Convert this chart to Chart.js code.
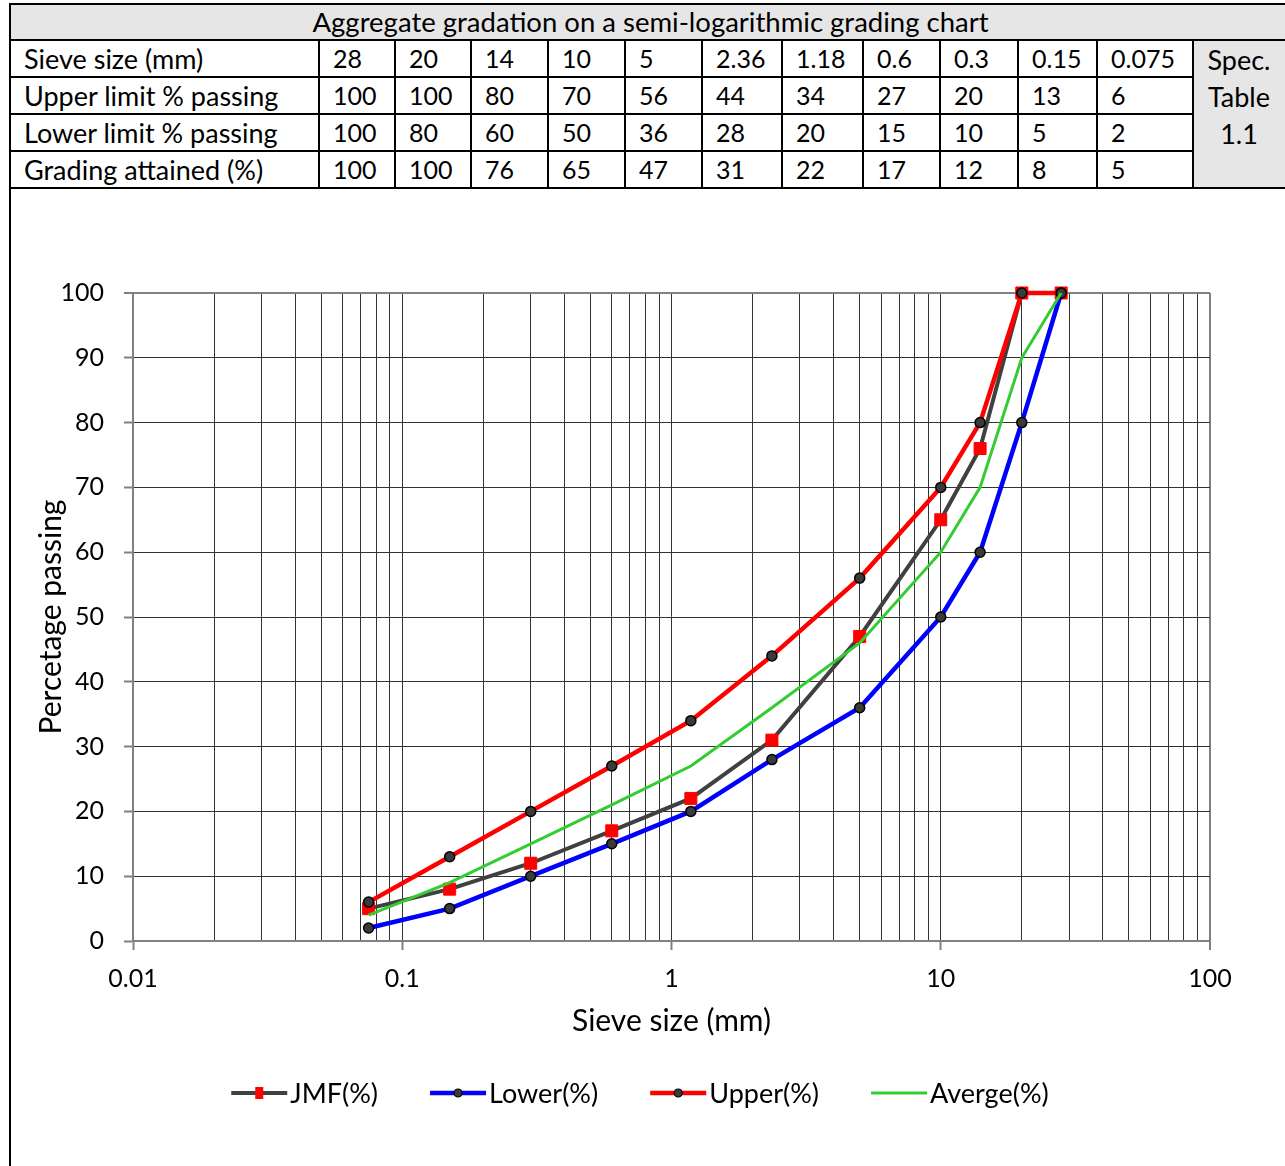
<!DOCTYPE html>
<html>
<head>
<meta charset="utf-8">
<script src="https://cdn.jsdelivr.net/npm/chart.js@4.4.1/dist/chart.umd.min.js"></script>
<style>
  html, body { margin: 0; padding: 0; background: #fff; overflow: hidden; }
  body { width: 1285px; height: 1166px; position: relative; font-family: Lato, sans-serif; color: #000; }
  #grading {
    position: absolute; left: 9px; top: 3px;
    border-collapse: collapse; table-layout: fixed; width: 1281px;
    font-size: 25px;
  }
  #grading td, #grading th {
    border: 2px solid #000; height: 35px; padding: 0 0 0 13px;
    text-align: left; font-weight: normal; white-space: nowrap; line-height: 35px;
  }
  #grading td.name { font-size: 27px; }
  #grading th { background: #e7e6e6; text-align: center; padding: 0; height: 34px; line-height: 34px; font-size: 27.5px; }
  #grading td.spec { background: #e7e6e6; text-align: center; vertical-align: top; padding: 0 6px 0 0; line-height: 37px; font-size: 27px; }
  #frame { position: absolute; left: 9px; top: 188px; width: 1300px; height: 990px; border-left: 2px solid #000; }
  #chart-box { position: absolute; left: 11px; top: 190px; width: 1274px; height: 976px; }
</style>
</head>
<body>
<table id="grading">
  <colgroup>
    <col style="width:309px"><col style="width:76px"><col style="width:76px"><col style="width:77px">
    <col style="width:77px"><col style="width:77px"><col style="width:80px"><col style="width:81px">
    <col style="width:77px"><col style="width:78px"><col style="width:79px"><col style="width:96px">
    <col style="width:98px">
  </colgroup>
  <tbody id="grading-body"></tbody>
</table>
<div id="frame"></div>
<div id="chart-box"><canvas id="gradation-chart"></canvas></div>

<script>
// Sieve openings (mm), coarse to fine, and percent passing at each
const sieveSizes = [28, 20, 14, 10, 5, 2.36, 1.18, 0.6, 0.3, 0.15, 0.075];
const upperLimit = [100, 100, 80, 70, 56, 44, 34, 27, 20, 13, 6];
const lowerLimit = [100, 80, 60, 50, 36, 28, 20, 15, 10, 5, 2];
const gradingAttained = [100, 100, 76, 65, 47, 31, 22, 17, 12, 8, 5];
const averageGrading = [100, 90, 70, 60, 46, 36, 27, 21, 15, 9, 4];

// Log axis decades (labelled) and y ticks
const decadeTicks = [0.01, 0.1, 1, 10, 100];
const yMin = 0, yMax = 100, yStep = 10;

const FONT = 'Lato';

function buildTable() {
    const body = document.getElementById('grading-body');
    const head = document.createElement('tr');
    head.innerHTML = '<th colspan="13">Aggregate gradation on a semi-logarithmic grading chart</th>';
    body.appendChild(head);

    const rows = [
        ['Sieve size (mm)', sieveSizes],
        ['Upper limit % passing', upperLimit],
        ['Lower limit % passing', lowerLimit],
        ['Grading attained (%)', gradingAttained]
    ];
    rows.forEach(([name, values], i) => {
        const tr = document.createElement('tr');
        let html = '<td class="name">' + name + '</td>' + values.map(v => '<td>' + v + '</td>').join('');
        if (i === 0) html += '<td rowspan="4" class="spec">Spec.<br>Table<br>1.1</td>';
        tr.innerHTML = html;
        body.appendChild(tr);
    });
}

function toPoints(values) {
    return sieveSizes.map((s, i) => ({x: s, y: values[i]}));
}

// Legend drawn as short line samples with the series marker in the middle
const lineLegend = {
    id: 'lineLegend',
    afterDraw(chart, args, opts) {
        const ctx = chart.ctx;
        ctx.save();
        ctx.font = opts.fontSize + 'px ' + FONT;
        ctx.textBaseline = 'middle';
        const items = chart.data.datasets.map(ds => ({ds, w: ctx.measureText(ds.label).width}));
        const lineLen = 56, textGap = 3, itemGap = 52;
        const total = items.reduce((s, it) => s + lineLen + textGap + it.w, 0) + itemGap * (items.length - 1);
        let x = opts.centerX - total / 2;
        const y = opts.y;
        items.forEach(({ds, w}) => {
            ctx.strokeStyle = ds.borderColor;
            ctx.lineWidth = ds.borderWidth;
            ctx.beginPath();
            ctx.moveTo(x, y);
            ctx.lineTo(x + lineLen, y);
            ctx.stroke();
            const cx = x + lineLen / 2;
            if (ds.pointStyle === 'rect' && ds.pointRadius > 0) {
                ctx.fillStyle = ds.pointBackgroundColor;
                ctx.fillRect(cx - 4, y - 6, 8, 12);
            } else if (ds.pointRadius > 0) {
                ctx.fillStyle = ds.pointBackgroundColor;
                ctx.strokeStyle = ds.pointBorderColor;
                ctx.lineWidth = 1.2;
                ctx.beginPath();
                ctx.arc(cx, y, 4, 0, Math.PI * 2);
                ctx.fill();
                ctx.stroke();
            }
            ctx.fillStyle = '#000';
            ctx.fillText(ds.label, x + lineLen + textGap, y + 1);
            x += lineLen + textGap + w + itemGap;
        });
        ctx.restore();
    }
};

function createChart() {
    const ctx = document.getElementById('gradation-chart').getContext('2d');
    const marker = {
        pointStyle: 'circle',
        pointRadius: 5,
        pointBackgroundColor: '#3a3a3a',
        pointBorderColor: '#000',
        pointBorderWidth: 1.5
    };

    return new Chart(ctx, {
        type: 'line',
        data: {
            datasets: [
                {
                    label: 'JMF(%)',
                    data: toPoints(gradingAttained),
                    borderColor: '#404040',
                    borderWidth: 4,
                    pointStyle: 'rect',
                    pointRadius: 8.5,
                    pointBackgroundColor: '#ff0000',
                    pointBorderColor: '#ff0000',
                    pointBorderWidth: 1,
                    order: 4
                },
                Object.assign({
                    label: 'Lower(%)',
                    data: toPoints(lowerLimit),
                    borderColor: '#0000ff',
                    borderWidth: 4.5,
                    order: 3
                }, marker),
                Object.assign({
                    label: 'Upper(%)',
                    data: toPoints(upperLimit),
                    borderColor: '#ff0000',
                    borderWidth: 4.5,
                    order: 2
                }, marker),
                {
                    label: 'Averge(%)',
                    data: toPoints(averageGrading),
                    borderColor: '#33cc33',
                    borderWidth: 3,
                    pointRadius: 0,
                    order: 1
                }
            ]
        },
        options: {
            responsive: true,
            maintainAspectRatio: false,
            animation: false,
            events: [],
            datasets: {
                line: { tension: 0, clip: false, fill: false }
            },
            layout: {
                padding: { top: 103, right: 75, left: 0, bottom: 125 }
            },
            plugins: {
                legend: { display: false },
                tooltip: { enabled: false },
                lineLegend: { centerX: 629, y: 903, fontSize: 27 }
            },
            scales: {
                x: {
                    type: 'logarithmic',
                    min: decadeTicks[0],
                    max: decadeTicks[decadeTicks.length - 1],
                    afterBuildTicks: scale => {
                        const ticks = [];
                        decadeTicks.forEach((d, i) => {
                            if (i === decadeTicks.length - 1) {
                                ticks.push({value: d});
                                return;
                            }
                            for (let m = 1; m <= 9; m++) {
                                ticks.push({value: +(d * m).toPrecision(3)});
                            }
                        });
                        scale.ticks = ticks;
                    },
                    afterFit: scale => { scale.height = 100; },
                    grid: {
                        color: c => (c.tick && c.tick.value === 100 ? '#808080' : '#333'),
                        lineWidth: c => (c.tick && c.tick.value === 100 ? 2 : 1),
                        tickColor: c => (c.tick && decadeTicks.includes(c.tick.value) ? '#808080' : 'rgba(0,0,0,0)'),
                        tickLength: 9,
                        tickWidth: 2
                    },
                    border: { display: true, color: '#808080', width: 2 },
                    ticks: {
                        autoSkip: false,
                        maxRotation: 0,
                        padding: 14,
                        color: '#000',
                        font: { family: FONT, size: 25 },
                        callback: value => (decadeTicks.includes(value) ? String(value) : '')
                    },
                    title: {
                        display: true,
                        text: 'Sieve size (mm)',
                        color: '#000',
                        font: { family: FONT, size: 30 },
                        padding: { top: 0, bottom: 2 }
                    }
                },
                y: {
                    min: yMin,
                    max: yMax,
                    afterFit: scale => { scale.width = 122; },
                    grid: {
                        color: c => (c.tick && c.tick.value === 100 ? '#808080' : '#333'),
                        lineWidth: c => (c.tick && c.tick.value === 100 ? 2 : 1),
                        tickColor: '#808080',
                        tickLength: 9,
                        tickWidth: 2
                    },
                    border: { display: true, color: '#808080', width: 2 },
                    ticks: {
                        stepSize: yStep,
                        padding: 20,
                        color: '#000',
                        font: { family: FONT, size: 25 }
                    },
                    title: {
                        display: true,
                        text: 'Percetage passing',
                        color: '#000',
                        font: { family: FONT, size: 30 },
                        padding: { top: 22, bottom: 0 }
                    }
                }
            }
        },
        plugins: [lineLegend]
    });
}

buildTable();
createChart();
</script>
</body>
</html>
